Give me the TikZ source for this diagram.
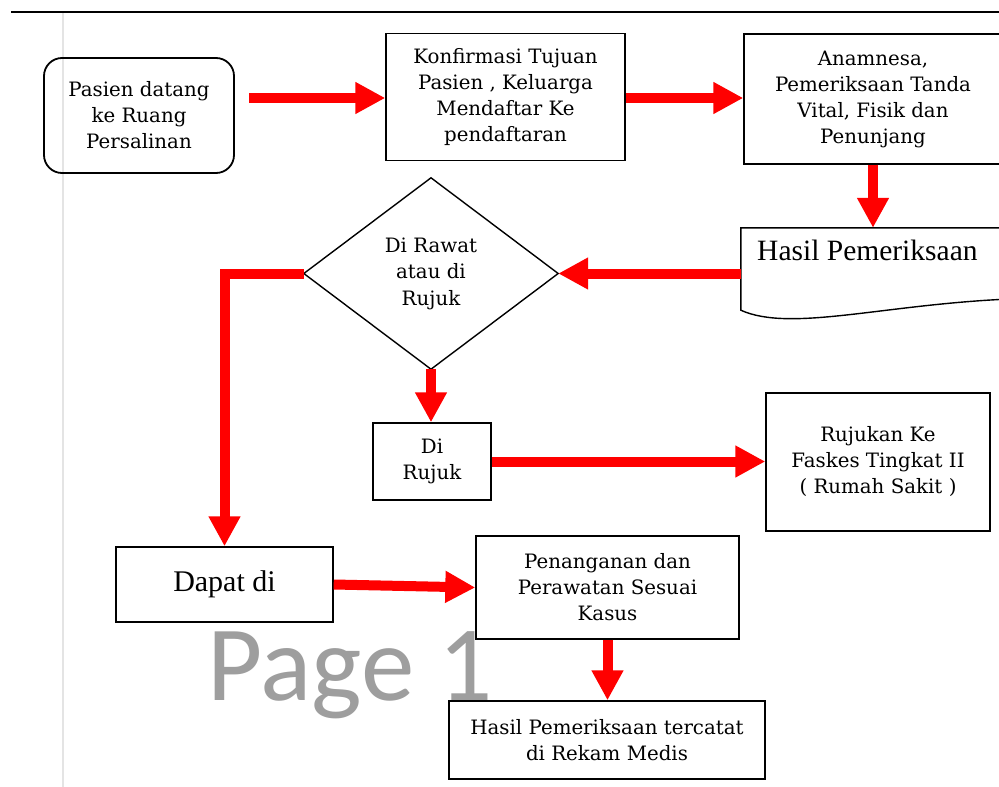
\documentclass[tikz,border=0pt]{standalone}
\usepackage{fontspec}
\newfontfamily\boxfont{DejaVu Serif}
\newfontfamily\bigfont{Liberation Serif}
\newfontfamily\pagefont{Carlito}
\usetikzlibrary{arrows.meta}
\definecolor{arrowred}{RGB}{255,0,0}
\definecolor{pagegray}{RGB}{158,158,158}
\definecolor{margingray}{RGB}{228,228,228}
\begin{document}
\begin{tikzpicture}[x=1pt,y=-1pt,
  box/.style={draw=black, line width=1.4pt, rectangle, inner sep=0pt, align=center,
    font=\boxfont\fontsize{19.8}{26}\selectfont},
  plain/.style={rectangle, inner sep=0pt, align=center,
    font=\boxfont\fontsize{19.8}{26.5}\selectfont},
  redarrow/.style={draw=arrowred, line width=10pt, line cap=butt,
    -{Triangle[length=30pt 0 0,width=30pt 0 0]}}
]
\clip (0,0) rectangle (999,787);
\fill[white] (0,0) rectangle (999,787);

% page decorations
\coordinate (topl) at (11,12);
\coordinate (topr) at (999,12);
\draw[line width=2pt] (topl) -- (topr);
\coordinate (marT) at (63,13);
\coordinate (marB) at (63,787);
\draw[margingray, line width=1.2pt] (marT) -- (marB);

% watermark
\node[anchor=base west, inner sep=0pt, text=pagegray,
  font=\pagefont\fontsize{107}{112}\selectfont] (pg) at (207,700) {Page 1};

% nodes
\node[box, rounded corners=18pt, line width=1.8pt, minimum width=190pt, minimum height=115pt]
  (b1) at (139,115.5) {Pasien datang\\ke Ruang\\Persalinan};
\node[box, minimum width=239pt, minimum height=127pt]
  (b2) at (505.5,97) {Konfirmasi Tujuan\\Pasien , Keluarga\\Mendaftar Ke\\pendaftaran};
\node[box, minimum width=258pt, minimum height=130pt]
  (b3) at (873,99) {Anamnesa,\\Pemeriksaan Tanda\\Vital, Fisik dan\\Penunjang};

% document shape
\node[rectangle, inner sep=0pt, minimum width=264pt, minimum height=82pt] (doc) at (873,269) {};
\draw[line width=1.4pt] (doc.north east) -- (doc.north west) -- (doc.south west)
  .. controls ([xshift=49pt,yshift=-22pt]doc.south west) and ([xshift=139pt,yshift=5pt]doc.south west)
  .. ([yshift=11pt]doc.south east);
\node[anchor=base west, inner sep=0pt, font=\bigfont\fontsize{29.5}{32}\selectfont]
  (doctext) at (757,260) {Hasil Pemeriksaan};

% diamond
\node[plain, minimum width=254pt, minimum height=191pt] (dia) at (431,273.5)
  {Di Rawat\\atau di\\Rujuk};
\draw[line width=1.4pt] (dia.north) -- (dia.east) -- (dia.south) -- (dia.west) -- cycle;

\node[box, plain, draw=black, line width=1.4pt, minimum width=118pt, minimum height=77pt]
  (dr) at (432,461.5) {Di\\Rujuk};
\node[box, minimum width=224pt, minimum height=138pt]
  (rs) at (878,462) {Rujukan Ke\\Faskes Tingkat II\\( Rumah Sakit )};
\node[box, minimum width=217pt, minimum height=75pt,
  font=\bigfont\fontsize{30}{32}\selectfont]
  (dp) at (224.5,584.5) {Dapat di};
\node[box, minimum width=263pt, minimum height=103pt]
  (pen) at (607.5,587.5) {Penanganan dan\\Perawatan Sesuai\\Kasus};
\node[box, minimum width=316pt, minimum height=78pt]
  (rk) at (607,740) {Hasil Pemeriksaan tercatat\\di Rekam Medis};

% connectors
\coordinate (a1s) at (249,98);
\draw[redarrow] (a1s) -- (a1s -| b2.west);
\draw[redarrow] (b2.east |- a1s) -- (a1s -| b3.west);
\draw[redarrow] (b3.south) -- (doc.north);
\draw[redarrow] (doc.west |- dia.east) -- (dia.east);
\draw[redarrow] (dia.west) -| (dp.north);
\draw[redarrow] (dia.south) -- (dia.south |- dr.north);
\draw[redarrow] (dr.east) -- (dr.east -| rs.west);
\draw[redarrow] (dp.east) -- (pen.west);
\draw[redarrow] (pen.south) -- (pen.south |- rk.north);
\end{tikzpicture}
\end{document}
